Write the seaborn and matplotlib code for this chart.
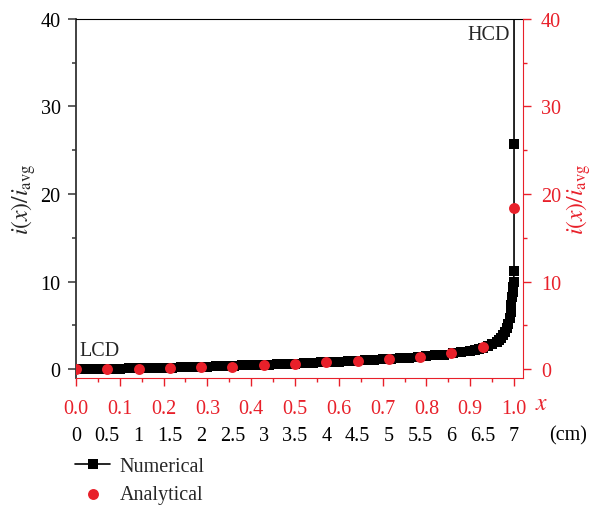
import numpy as np
import seaborn as sns
import matplotlib
matplotlib.use("Agg")
import matplotlib.pyplot as plt
from matplotlib.ticker import MultipleLocator, FuncFormatter

# numerical solution (dense), x in normalised length
num_x = [0.00, 0.02, 0.04, 0.06, 0.08, 0.10, 0.12, 0.14, 0.16, 0.18,
         0.20, 0.22, 0.24, 0.26, 0.28, 0.30, 0.32, 0.34, 0.36, 0.38,
         0.40, 0.42, 0.44, 0.46, 0.48, 0.50, 0.52, 0.54, 0.56, 0.58,
         0.60, 0.62, 0.64, 0.66, 0.68, 0.70, 0.72, 0.74, 0.76, 0.78,
         0.80, 0.82, 0.84, 0.86, 0.88, 0.90, 0.91, 0.92, 0.93, 0.94,
         0.95, 0.96, 0.965, 0.97, 0.975, 0.98, 0.984, 0.987, 0.990, 0.992,
         0.994, 0.996, 0.997, 0.998, 0.999, 1.000, 1.000, 1.000]
num_y = [0.00, 0.01, 0.02, 0.03, 0.05, 0.06, 0.08, 0.10, 0.12, 0.14,
         0.16, 0.19, 0.21, 0.24, 0.27, 0.30, 0.33, 0.36, 0.39, 0.42,
         0.45, 0.48, 0.52, 0.56, 0.60, 0.64, 0.68, 0.72, 0.77, 0.81,
         0.86, 0.91, 0.96, 1.01, 1.07, 1.12, 1.18, 1.25, 1.32, 1.40,
         1.48, 1.57, 1.67, 1.79, 1.93, 2.10, 2.20, 2.32, 2.47, 2.64,
         2.85, 3.12, 3.30, 3.55, 3.85, 4.25, 4.70, 5.20, 5.90, 6.50,
         7.30, 8.20, 8.80, 9.40, 9.90, 11.2, 25.7, 60.0]

# analytical solution, every 0.5 cm of a 7 cm electrode
ana_x = [0.0, 0.0714, 0.1429, 0.2143, 0.2857, 0.3571, 0.4286, 0.5,
         0.5714, 0.6429, 0.7143, 0.7857, 0.8571, 0.9286, 1.0]
ana_y = [0.0, 0.04, 0.05, 0.10, 0.20, 0.30, 0.45, 0.60,
         0.80, 0.95, 1.14, 1.40, 1.83, 2.55, 18.4]

length_cm = 7.0
red = "#e8202a"

sns.set_style("ticks")
plt.rcParams["font.family"] = ["Liberation Serif", "DejaVu Serif"]
plt.rcParams["mathtext.fontset"] = "stix"
fs = 14.5
lfs = 17

fig = plt.figure(figsize=(5.95, 5.1), dpi=100)
ax = fig.add_axes([0.1277, 0.257, 0.7513, 0.704])

sns.lineplot(x=num_x, y=num_y, ax=ax, color="black", lw=1.2, marker="s",
             markersize=7.6, markeredgewidth=0, sort=False, estimator=None,
             label="Numerical")
sns.scatterplot(x=ana_x, y=ana_y, ax=ax, color=red, s=62, linewidth=0,
                zorder=5, label="Analytical")

ax.set_xlim(0, 1.0205)
ax.set_ylim(-1, 40)

# left axis (black)
ax.yaxis.set_major_locator(MultipleLocator(10))
ax.yaxis.set_minor_locator(MultipleLocator(5))
ax.tick_params(axis="y", which="major", length=6, width=1.1, labelsize=fs, pad=5, colors="#333333")
ax.tick_params(axis="y", which="minor", length=3, width=1.1, colors="#333333")
ax.tick_params(axis="y", labelcolor="black")
ax.set_ylabel(r"$i(x)/i_{\mathrm{avg}}$", fontsize=lfs, labelpad=2)

# bottom axis (red, normalised x)
ax.xaxis.set_major_locator(MultipleLocator(0.1))
ax.xaxis.set_minor_locator(MultipleLocator(0.05))
ax.xaxis.set_major_formatter(FuncFormatter(lambda v, p: f"{v:.1f}"))
ax.tick_params(axis="x", which="major", length=6, width=1, labelsize=fs, pad=9, colors=red)
ax.tick_params(axis="x", which="minor", length=3, width=1, colors=red)

ax.spines["left"].set_color("#333333")
ax.spines["left"].set_linewidth(1.3)
ax.spines["bottom"].set_color(red)
ax.spines["top"].set_color("black")
ax.spines["top"].set_visible(True)
ax.spines["right"].set_visible(False)

# second scale in cm below
sec = ax.secondary_xaxis(-0.135, functions=(lambda v: v * length_cm, lambda v: v / length_cm))
sec.xaxis.set_major_locator(MultipleLocator(0.5))
sec.xaxis.set_major_formatter(FuncFormatter(lambda v, p: f"{v:g}" if v <= 7.01 else ""))
sec.tick_params(axis="x", length=0, labelsize=fs, pad=0, colors="black")
sec.spines["bottom"].set_visible(False)

# right axis (red)
ax2 = ax.twinx()
ax2.set_ylim(-1, 40)
ax2.yaxis.set_major_locator(MultipleLocator(10))
ax2.yaxis.set_minor_locator(MultipleLocator(5))
ax2.tick_params(axis="y", which="major", length=6, width=1, labelsize=fs, pad=7, colors=red)
ax2.tick_params(axis="y", which="minor", length=3, width=1, colors=red)
ax2.set_ylabel(r"$i(x)/i_{\mathrm{avg}}$", fontsize=lfs, color=red, labelpad=2)
ax2.spines["right"].set_color(red)
ax2.spines["right"].set_visible(True)
for s in ["top", "bottom", "left"]:
    ax2.spines[s].set_visible(False)

fig.text(542 / 595, 1 - 405 / 510, r"$x$", color=red, fontsize=lfs, ha="center", va="center")
fig.text(568 / 595, 1 - 436 / 510, "(cm)", color="black", fontsize=fs, ha="center", va="center")
ax.text(0.008, 1.0, "LCD", fontsize=fs, ha="left", va="bottom")
ax.text(0.99, 38.2, "HCD", fontsize=fs, ha="right", va="center")

handles, labels = ax.get_legend_handles_labels()
ax.legend_.remove()
leg = fig.legend(handles, labels, loc="upper left", bbox_to_anchor=(75 / 595, 1 - 458 / 510),
                 frameon=False, fontsize=fs, handlelength=1.75, handletextpad=0.45,
                 labelspacing=0.45, borderpad=0, borderaxespad=0)

fig.savefig("out.png", dpi=100)
